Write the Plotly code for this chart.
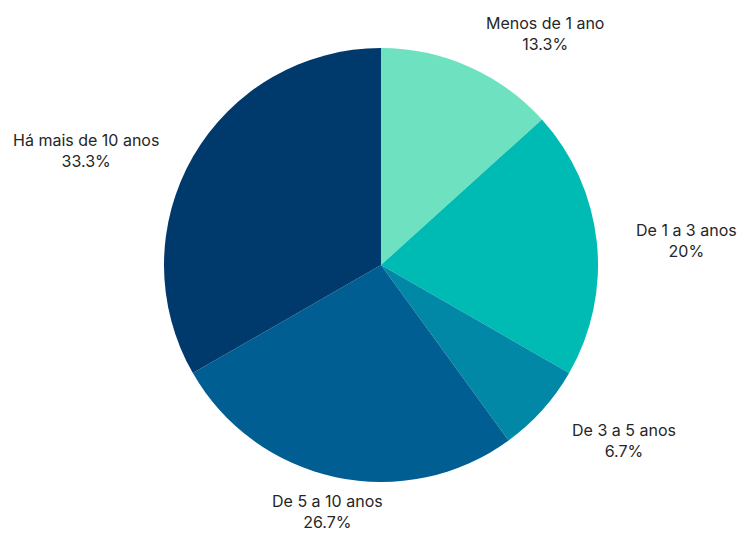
import math
import plotly.graph_objects as go

# Tempo de atuação — share of respondents per bracket
categories = ["Menos de 1 ano", "De 1 a 3 anos", "De 3 a 5 anos", "De 5 a 10 anos", "Há mais de 10 anos"]
values = [13.3, 20.0, 6.7, 26.7, 33.3]
value_labels = ["13.3%", "20%", "6.7%", "26.7%", "33.3%"]
colors = ["#6EE2C0", "#00BAB4", "#0088A6", "#005E92", "#00396C"]

W, H = 737, 533
cx, cy, r = 381, 265, 217   # pie centre and radius in pixels
label_rx, label_ry = 254, 229  # label anchor distances (horizontal / vertical)

dom_x = [(cx - r) / W, (cx + r) / W]
dom_y = [(H - cy - r) / H, (H - cy + r) / H]

fig = go.Figure(go.Pie(
    labels=categories,
    values=values,
    marker=dict(colors=colors, line=dict(width=0)),
    sort=False,
    direction="clockwise",
    rotation=0,
    textinfo="none",
    hoverinfo="label+percent",
    showlegend=False,
    domain=dict(x=dom_x, y=dom_y),
))

# Outside labels placed at each slice's mid-angle
total = sum(values)
annotations = []
cum = 0.0
for cat, v, txt in zip(categories, values, value_labels):
    mid = (cum + v / 2) / total * 2 * math.pi
    cum += v
    s, c = math.sin(mid), math.cos(mid)
    px = cx + label_rx * s
    py = cy - label_ry * c
    xanchor = "left" if s > 0.25 else ("right" if s < -0.25 else "center")
    yanchor = "bottom" if c > 0.6 else ("top" if c < -0.6 else "middle")
    annotations.append(dict(
        x=px / W, y=1 - py / H, xref="paper", yref="paper",
        text=f"{cat}<br>{txt}", showarrow=False,
        xanchor=xanchor, yanchor=yanchor, align="center",
        font=dict(family="Inter, Roboto, sans-serif", size=16, color="#262626"),
    ))

fig.update_layout(
    width=W, height=H,
    margin=dict(l=0, r=0, t=0, b=0),
    paper_bgcolor="white",
    plot_bgcolor="white",
    annotations=annotations,
)

fig.write_html("out.html")
